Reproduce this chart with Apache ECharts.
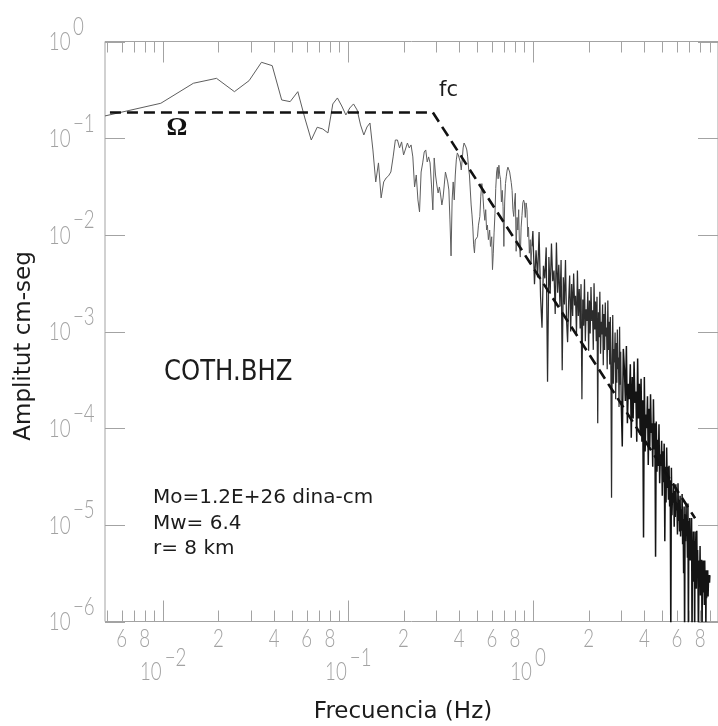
<!DOCTYPE html>
<html><head><meta charset="utf-8">
<script src="https://cdn.jsdelivr.net/npm/echarts@6/dist/echarts.min.js"></script>
<style>html,body{margin:0;padding:0;background:#fff;}#c{width:718px;height:726px;}</style>
</head><body><div id="c"></div>
<script>
// ---------------- DATA ----------------
// Spectrum, part A: lowest frequencies (Hz) and log10 amplitude (cm-seg)
const specFreqA = [0.00488,0.00977,0.01465,0.01953,0.02441,0.0293,0.03418,0.03906,0.04395,0.04883,
0.05371,0.05859,0.06348,0.06836,0.07324,0.07813,0.08301,0.08789,0.09277,0.09766,
0.1025,0.1074,0.1123,0.1172,0.1221,0.127,0.1318,0.1367,0.1416,0.1465,
0.1514,0.1563,0.1611,0.166,0.1709,0.1758,0.1807,0.1855,0.1904,0.1953,
0.2002,0.2051,0.21,0.2148,0.2197,0.2246,0.2295,0.2344,0.2393,0.2441,
0.249,0.2539,0.2588,0.2637,0.2686,0.2734,0.2783,0.2832,0.2881,0.293,
0.2979,0.3027,0.3076,0.3125,0.3174,0.3223,0.3271,0.332,0.3369,0.3418,
0.3467,0.3516,0.3564,0.3613,0.3662,0.3711,0.376,0.3809,0.3857,0.3906,
0.3955,0.4004,0.4053,0.4102,0.415,0.4199,0.4248,0.4297,0.4346,0.4395,
0.4443,0.4492,0.4541,0.459,0.4639,0.4688,0.4736,0.4785,0.4834,0.4883];
const specLogAmpA = [-0.77,-0.639,-0.432,-0.381,-0.519,-0.405,-0.215,-0.25,-0.605,-0.622,
-0.519,-0.791,-1.019,-0.887,-0.905,-0.946,-0.646,-0.584,-0.667,-0.76,
-0.688,-0.646,-0.708,-0.863,-0.967,-0.884,-0.843,-1.122,-1.453,-1.256,
-1.618,-1.453,-1.412,-1.39,-1.35,-1.194,-1.019,-1.019,-1.101,-1.039,
-1.174,-1.194,-1.05,-1.101,-1.07,-1.194,-1.505,-1.381,-1.639,-1.763,
-1.35,-1.256,-1.143,-1.122,-1.246,-1.194,-1.256,-1.484,-1.742,-1.205,
-1.381,-1.484,-1.567,-1.505,-1.587,-1.691,-1.618,-1.484,-1.35,-1.401,
-1.453,-1.536,-1.846,-2.218,-1.639,-1.453,-1.639,-1.381,-1.225,-1.153,
-1.174,-1.194,-1.246,-1.329,-1.225,-1.101,-1.05,-1.07,-1.091,-1.122,
-1.194,-1.308,-1.381,-1.536,-1.691,-1.794,-1.918,-2.104,-2.187,-2.053];
// Part B: 0.5 - 1 Hz
const specFreqB = [0.502,0.508,0.517,0.523,0.53,0.536,0.543,0.55,0.556,0.562,
0.568,0.575,0.584,0.59,0.599,0.605,0.611,0.617,0.624,0.63,
0.637,0.643,0.649,0.655,0.662,0.669,0.676,0.683,0.69,0.697,
0.704,0.711,0.718,0.726,0.733,0.741,0.749,0.757,0.764,0.772,
0.78,0.788,0.796,0.804,0.812,0.821,0.829,0.838,0.846,0.855,
0.864,0.873,0.882,0.891,0.9,0.91,0.919,0.929,0.938,0.947,
0.957,0.967,0.977,0.988];
const specLogAmpB = [-2.02,-1.9,-1.81,-1.6,-1.47,-1.57,-1.74,-1.85,-1.74,-1.95,
-1.9,-2.05,-1.95,-2.12,-2.02,-2.36,-2.19,-1.98,-1.78,-1.52,
-1.35,-1.3,-1.42,-1.28,-1.38,-1.43,-1.66,-1.54,-1.71,-2.12,
-1.66,-1.47,-1.4,-1.33,-1.3,-1.28,-1.35,-1.33,-1.46,-1.54,
-1.74,-1.81,-1.66,-1.57,-2.17,-1.82,-1.95,-1.74,-2.12,-2.23,
-1.92,-1.8,-1.67,-1.64,-1.67,-1.82,-1.67,-1.74,-2.02,-1.92,
-2.19,-2.05,-2.29,-2.12];
// Part C: 1 - 3 Hz
const specFreqC = [0.988,1.00,1.02,1.04,1.06,1.08,1.10,1.12,1.14,1.16,1.18,
1.20,1.22,1.24,1.26,1.28,1.30,1.32,1.34,1.36,1.38,
1.40,1.42,1.44,1.46,1.48,1.50,1.52,1.54,1.56,1.58,
1.60,1.62,1.64,1.66,1.68,1.70,1.72,1.74,1.76,1.78,
1.80,1.82,1.84,1.86,1.88,1.90,1.92,1.94,1.96,1.98,
2.00,2.02,2.04,2.06,2.08,2.10,2.12,2.14,2.16,2.18,
2.20,2.22,2.24,2.26,2.28,2.30,2.32,2.34,2.36,2.38,
2.40,2.42,2.44,2.46,2.48,2.50,2.52,2.54,2.56,2.58,
2.60,2.62,2.64,2.66,2.68,2.70,2.72,2.74,2.76,2.78,
2.80,2.82,2.84,2.86,2.88,2.90,2.92,2.94,2.96,2.98,3.00];
const specLogAmpC = [-2.12,-1.96,-2.51,-2.16,-2.44,-1.97,-2.64,-2.96,-2.32,-2.45,-2.13,
-3.52,-2.23,-2.61,-2.09,-2.48,-2.37,-2.82,-2.08,-2.6,-2.31,
-2.74,-2.26,-3.4,-2.44,-2.72,-2.26,-2.89,-3.11,-2.69,-2.42,
-3.0,-2.51,-2.84,-2.4,-2.73,-2.63,-3.03,-2.37,-2.84,-2.56,
-2.97,-2.51,-3.7,-2.67,-2.94,-2.46,-3.1,-2.77,-2.89,-2.59,
-3.2,-2.68,-3.02,-2.54,-2.89,-2.78,-3.19,-2.5,-2.98,-2.69,
-3.1,-2.64,-3.95,-2.8,-3.06,-2.59,-3.23,-2.9,-3.03,-2.72,
-3.35,-2.82,-3.19,-2.7,-3.05,-2.96,-3.39,-2.68,-3.19,-2.9,
-3.34,-2.85,-3.42,-4.72,-3.34,-2.83,-3.54,-3.18,-3.32,-3.01,
-3.7,-3.12,-3.53,-2.98,-3.39,-3.27,-3.78,-2.95,-3.55,-3.21,-3.72];
// Part D: 3 - 9 Hz
const specFreqD = [3.00,3.04,3.08,3.12,3.16,3.20,3.24,3.28,3.32,3.36,3.40,
3.44,3.48,3.52,3.56,3.60,3.64,3.68,3.72,3.76,3.80,
3.84,3.88,3.92,3.96,4.00,4.04,4.08,4.12,4.16,4.20,
4.24,4.28,4.32,4.36,4.40,4.44,4.48,4.52,4.56,4.60,
4.64,4.68,4.72,4.76,4.80,4.84,4.88,4.92,4.96,5.00,
5.04,5.08,5.12,5.16,5.20,5.24,5.28,5.32,5.36,5.40,
5.44,5.48,5.52,5.56,5.60,5.64,5.68,5.72,5.76,5.80,
5.84,5.88,5.92,5.96,6.00,6.04,6.08,6.12,6.16,6.20,
6.24,6.28,6.32,6.36,6.40,6.44,6.48,6.52,6.56,6.60,
6.64,6.68,6.72,6.76,6.80,6.84,6.88,6.92,6.96,7.00,
7.04,7.08,7.12,7.16,7.20,7.24,7.28,7.32,7.36,7.40,
7.44,7.48,7.52,7.56,7.60,7.64,7.68,7.72,7.76,7.80,
7.84,7.88,7.92,7.96,8.00,8.04,8.08,8.12,8.16,8.20,
8.24,8.28,8.32,8.36,8.40,8.44,8.48,8.52,8.56,8.60,
8.64,8.68,8.72,8.76,8.80,8.84,8.88,8.92,8.96,9.00,9.04];
const specLogAmpD = [-3.72,-4.19,-3.18,-3.38,-3.72,-3.15,-3.95,-3.54,-3.7,-3.34,-4.1,
-3.47,-3.9,-3.31,-3.74,-3.62,-4.14,-3.28,-3.9,-3.54,-4.07,
-3.49,-4.14,-3.71,-5.13,-3.47,-4.24,-3.86,-4.0,-3.67,-4.38,
-3.8,-4.19,-3.65,-4.05,-3.95,-4.4,-3.7,-4.22,-3.95,-5.33,
-3.93,-4.45,-4.12,-4.39,-3.96,-4.57,-4.27,-4.39,-4.13,-4.7,
-4.24,-4.56,-4.16,-5.17,-4.4,-4.77,-4.2,-4.62,-4.4,-4.74,
-4.39,-4.81,-4.54,-6.2,-4.41,-4.9,-4.67,-4.77,-4.57,-5.02,
-4.65,-4.92,-4.58,-4.85,-4.78,-5.1,-4.57,-4.96,-4.74,-5.07,
-4.7,-5.12,-4.84,-5.06,-4.68,-5.2,-4.94,-5.5,-4.81,-6.2,
-4.89,-5.17,-4.79,-5.08,-4.99,-5.34,-4.78,-6.2,-4.96,-5.31,
-4.93,-5.37,-5.08,-5.31,-4.93,-6.2,-5.2,-5.31,-5.07,-5.59,
-5.17,-6.2,-5.07,-5.37,-5.29,-5.66,-5.06,-5.49,-5.26,-5.61,
-6.2,-5.66,-5.37,-5.59,-5.22,-5.73,-5.48,-5.58,-5.36,-6.2,
-5.45,-5.7,-5.37,-5.62,-5.55,-5.83,-5.37,-5.68,-5.5,-6.1,
-5.47,-5.76,-5.57,-5.7,-5.47,-5.74,-5.59,-5.61,-5.52,-5.6,-5.52];

// Source model (dashed): flat level Omega up to corner frequency fc, then decay
const modelFreq = [0.00519, 0.288, 7.52];
const modelAmp  = [0.1845, 0.1845, 1.17e-5];

// Axis ticks and labels
const X_MIN = 0.00488, X_MAX = 10, Y_MIN = 1e-6, Y_MAX = 1;
const xTickVals = [0.005,0.006,0.007,0.008,0.009,0.01,
  0.02,0.03,0.04,0.05,0.06,0.07,0.08,0.09,0.1,
  0.2,0.3,0.4,0.5,0.6,0.7,0.8,0.9,1,
  2,3,4,5,6,7,8,9];
const xMajorVals = [0.01, 0.1, 1];
const xMinorLabelVals = [0.006,0.008,0.02,0.04,0.06,0.08,0.2,0.4,0.6,0.8,2,4,6,8];
const xMinorLabelText = ['6','8','2','4','6','8','2','4','6','8','2','4','6','8'];
const xDecadeVals = [0.01, 0.1, 1];
const xDecadeExp = ['\u22122','\u22121','0'];
const yDecadeVals = [1e-6,1e-5,1e-4,1e-3,1e-2,1e-1,1];
const yDecadeExp = ['\u22126','\u22125','\u22124','\u22123','\u22122','\u22121','0'];

// Text annotations
const stationText = 'COTH.BHZ';
const infoLines = ['Mo=1.2E+26 dina-cm', 'Mw= 6.4', 'r= 8 km'];
const yTitle = 'Amplitut cm-seg';
const xTitle = 'Frecuencia (Hz)';

// ---------------- BUILD ----------------
function pairs(fs, ls) { return fs.map((f, i) => [f, Math.pow(10, ls[i])]); }
const spectrumLow = [].concat(pairs(specFreqA, specLogAmpA), pairs(specFreqB, specLogAmpB));
const spectrumMid = pairs(specFreqC, specLogAmpC);
const spectrumHigh = pairs(specFreqD, specLogAmpD);
const model = modelFreq.map((f, i) => [f, modelAmp[i]]);

const AXIS_COLOR = '#a3a3a3';
const LABEL_COLOR = '#a2a2a2';
const LABEL_FONT = { fontFamily: 'Lato', fontWeight: 300, fontSize: 26 };
const LABEL_SX = 0.72;
const TEXT_COLOR = '#1c1c1c';

function lbl(x, y, text, align) {
  return { type: 'text', x: x, y: y, scaleX: LABEL_SX,
    style: Object.assign({ text: text, fill: LABEL_COLOR, align: align, verticalAlign: 'middle' }, LABEL_FONT) };
}
function specSeries(data, color, width) {
  return { type: 'line', data: data, symbol: 'none', clip: true, z: 2, silent: true,
           lineStyle: { color: color, width: width } };
}

const chart = echarts.init(document.getElementById('c'));
chart.setOption({
  animation: false,
  backgroundColor: '#fff',
  grid: { left: 105, top: 41.5, width: 620, height: 580, show: true,
          borderColor: AXIS_COLOR, borderWidth: 1, containLabel: false },
  xAxis: { type: 'log', logBase: 10, min: X_MIN, max: X_MAX,
           axisLine: { show: false }, axisTick: { show: false },
           axisLabel: { show: false }, splitLine: { show: false } },
  yAxis: { type: 'log', logBase: 10, min: Y_MIN, max: Y_MAX,
           axisLine: { show: false }, axisTick: { show: false },
           axisLabel: { show: false }, splitLine: { show: false } },
  series: [
    specSeries(spectrumLow, '#5e5e5e', 1),
    specSeries(spectrumMid, '#2c2c2c', 1.25),
    specSeries(spectrumHigh, '#141414', 1.5),
    { type: 'line', data: model, symbol: 'none', clip: true, z: 3,
      lineStyle: { color: '#111', width: 2.6, type: [11, 6] }, silent: true },
    // x ticks (bottom and top)
    { type: 'custom', z: 4, silent: true, clip: false,
      data: xTickVals.map(v => [v, Y_MIN]),
      renderItem: function (params, api) {
        const v = api.value(0);
        const major = xMajorVals.indexOf(v) >= 0;
        const b = api.coord([v, Y_MIN]), t = api.coord([v, Y_MAX]);
        const len = major ? 21 : 11;
        const x = Math.round(b[0]) + 0.5;
        return { type: 'group', children: [
          { type: 'line', shape: { x1: x, y1: b[1], x2: x, y2: b[1] - len }, style: { stroke: AXIS_COLOR, lineWidth: 1 } },
          { type: 'line', shape: { x1: x, y1: t[1], x2: x, y2: t[1] + len }, style: { stroke: AXIS_COLOR, lineWidth: 1 } }
        ]};
      } },
    // y ticks (left and right)
    { type: 'custom', z: 4, silent: true, clip: false,
      data: yDecadeVals.map(v => [X_MIN, v]),
      renderItem: function (params, api) {
        const v = api.value(1);
        const l = api.coord([X_MIN, v]), r = api.coord([X_MAX, v]);
        const y = Math.round(l[1]) + 0.5;
        return { type: 'group', children: [
          { type: 'line', shape: { x1: l[0], y1: y, x2: l[0] + 20, y2: y }, style: { stroke: AXIS_COLOR, lineWidth: 1 } },
          { type: 'line', shape: { x1: r[0], y1: y, x2: r[0] - 20, y2: y }, style: { stroke: AXIS_COLOR, lineWidth: 1 } }
        ]};
      } },
    // x minor labels
    { type: 'custom', z: 5, silent: true, clip: false,
      data: xMinorLabelVals.map(v => [v, Y_MIN]),
      renderItem: function (params, api) {
        const p = api.coord([api.value(0), Y_MIN]);
        return lbl(p[0], p[1] + 17.5, xMinorLabelText[params.dataIndex], 'center');
      } },
    // x decade labels
    { type: 'custom', z: 5, silent: true, clip: false,
      data: xDecadeVals.map(v => [v, Y_MIN]),
      renderItem: function (params, api) {
        const p = api.coord([api.value(0), Y_MIN]);
        return { type: 'group', children: [
          lbl(p[0] - 1, p[1] + 50, '10', 'right'),
          lbl(p[0] + 2, p[1] + 36, xDecadeExp[params.dataIndex], 'left')
        ]};
      } },
    // y decade labels
    { type: 'custom', z: 5, silent: true, clip: false,
      data: yDecadeVals.map(v => [X_MIN, v]),
      renderItem: function (params, api) {
        const p = api.coord([X_MIN, api.value(1)]);
        return { type: 'group', children: [
          lbl(p[0] - 34.5, p[1] + 0.5, '10', 'right'),
          lbl(p[0] - 32, p[1] - 15, yDecadeExp[params.dataIndex], 'left')
        ]};
      } }
  ],
  graphic: [
    { type: 'text', x: 24, y: 346, rotation: Math.PI / 2, silent: true,
      style: { text: yTitle, fill: TEXT_COLOR, fontFamily: 'DejaVu Sans', fontSize: 23, align: 'center', verticalAlign: 'middle' } },
    { type: 'text', x: 403, y: 712, silent: true,
      style: { text: xTitle, fill: TEXT_COLOR, fontFamily: 'DejaVu Sans', fontSize: 23, align: 'center', verticalAlign: 'middle' } },
    { type: 'text', x: 164, y: 372, scaleX: 0.84, silent: true,
      style: { text: stationText, fill: TEXT_COLOR, fontFamily: 'DejaVu Sans', fontSize: 29, align: 'left', verticalAlign: 'middle' } },
    { type: 'text', x: 153, y: 498, silent: true,
      style: { text: infoLines[0], fill: TEXT_COLOR, fontFamily: 'DejaVu Sans', fontSize: 20, align: 'left', verticalAlign: 'middle' } },
    { type: 'text', x: 153, y: 523.5, silent: true,
      style: { text: infoLines[1], fill: TEXT_COLOR, fontFamily: 'DejaVu Sans', fontSize: 20, align: 'left', verticalAlign: 'middle' } },
    { type: 'text', x: 153, y: 548.5, silent: true,
      style: { text: infoLines[2], fill: TEXT_COLOR, fontFamily: 'DejaVu Sans', fontSize: 20, align: 'left', verticalAlign: 'middle' } },
    { type: 'text', x: 439, y: 91, silent: true,
      style: { text: 'fc', fill: TEXT_COLOR, fontFamily: 'DejaVu Sans', fontSize: 21, align: 'left', verticalAlign: 'middle' } },
    { type: 'text', x: 177, y: 128.5, silent: true,
      style: { text: '\u03A9', fill: '#111', fontFamily: 'Liberation Serif', fontWeight: 'bold', fontSize: 26, align: 'center', verticalAlign: 'middle' } }
  ]
});
</script></body></html>
